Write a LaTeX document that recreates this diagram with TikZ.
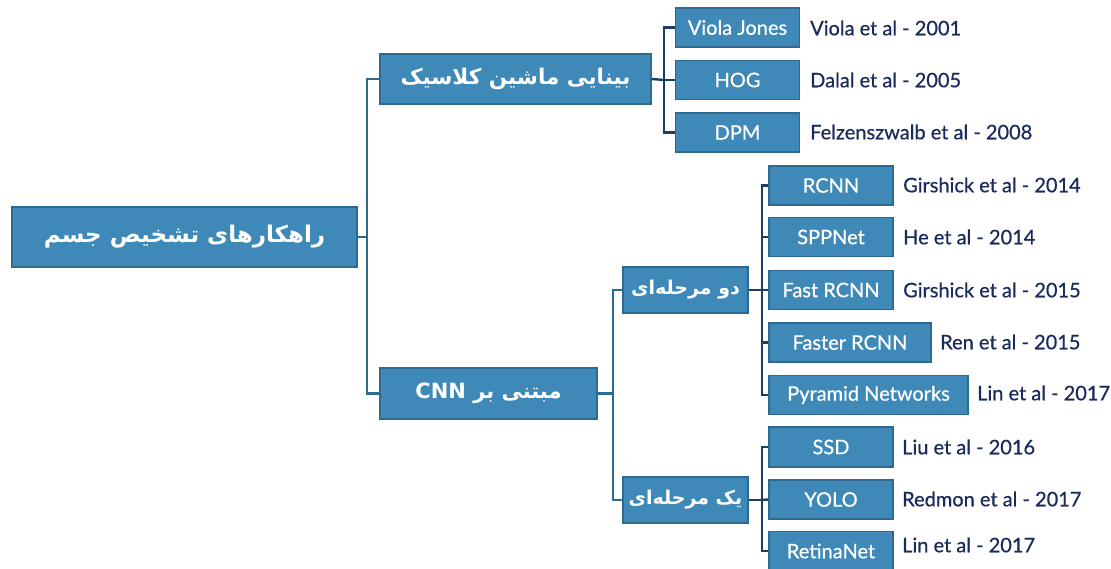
\documentclass[tikz,border=0pt]{standalone}
\usepackage{fontspec}
\setmainfont{Lato}
\newfontfamily\latofont{Lato}[FakeBold=0.6]
\newfontfamily\fafont[Script=Arabic]{DejaVu Sans}
\TeXXeTstate=1
\definecolor{boxfill}{HTML}{3F89B9}
\definecolor{boxline}{HTML}{2D6990}
\definecolor{trunk}{HTML}{2C6B90}
\definecolor{twig}{HTML}{1D3D63}
\definecolor{cite}{HTML}{1A2A5C}
\newcommand{\fa}[1]{{\fafont\bfseries\beginR #1\endR}}
\tikzset{
  box/.style={draw=boxline, line width=1.6pt, fill=boxfill, text=white,
    inner sep=0pt, anchor=center, font=\latofont\fontsize{20}{24}\selectfont},
  leaf/.style={box, minimum width=124pt, minimum height=39pt},
  mid/.style={box, minimum width=125pt, minimum height=46pt,
    font=\fontsize{19}{24}\selectfont},
  ref/.style={anchor=west, text=cite, inner sep=0pt,
    font=\latofont\fontsize{20}{24}\selectfont},
  branch/.style={draw=trunk, line width=2.4pt},
  fork/.style={draw=twig, line width=2.4pt},
}
\begin{document}
\begin{tikzpicture}[x=1pt,y=-1pt]
\useasboundingbox (0,0) rectangle (1111,569);

% top level
\node[box, minimum width=345pt, minimum height=60pt,
  font=\fontsize{23}{28}\selectfont] (root) at (184.5,237) {\fa{راهکارهای تشخیص جسم}};
\node[box, minimum width=271pt, minimum height=50pt,
  font=\fontsize{21.5}{26}\selectfont] (classic) at (515.5,79) {\fa{بینایی ماشین کلاسیک}};
\node[box, minimum width=217pt, minimum height=51pt,
  font=\fontsize{21}{26}\selectfont] (cnn) at (488.5,393.5) {\fa{مبتنی بر \beginL CNN\endL}};

% classic methods
\node[leaf] (viola) at (737.5,27.5) {Viola Jones};
\node[leaf] (hog) at (737.5,80) {HOG};
\node[leaf] (dpm) at (737.5,132.5) {DPM};
\node[ref] (violaref) at (810,28) {Viola et al - 2001};
\node[ref] (hogref) at (810,80) {Dalal et al - 2005};
\node[ref] (dpmref) at (810,132) {Felzenszwalb et al - 2008};

% CNN families
\node[mid] (two) at (685.5,290) {\fa{دو مرحله^^^^200cای}};
\node[mid] (one) at (685.5,500) {\fa{یک مرحله^^^^200cای}};

% two-stage detectors
\node[leaf] (rcnn) at (831,185.5) {RCNN};
\node[leaf] (spp) at (831,237) {SPPNet};
\node[leaf] (fast) at (831,290) {Fast RCNN};
\node[leaf, minimum width=162pt] (faster) at (850,342.5) {Faster RCNN};
\node[leaf, minimum width=199pt] (pyr) at (868.5,395) {Pyramid Networks};
\node[ref] (rcnnref) at (903,185) {Girshick et al - 2014};
\node[ref] (sppref) at (903,237) {He et al - 2014};
\node[ref] (fastref) at (903,290) {Girshick et al - 2015};
\node[ref] (fasterref) at (940,342) {Ren et al - 2015};
\node[ref] (pyrref) at (977,393) {Lin et al - 2017};

% one-stage detectors
\node[leaf, minimum height=40pt] (ssd) at (831,447) {SSD};
\node[leaf] (yolo) at (831,499.5) {YOLO};
\node[leaf] (retina) at (831,551) {RetinaNet};
\node[ref] (ssdref) at (902,447) {Liu et al - 2016};
\node[ref] (yoloref) at (902,499) {Redmon et al - 2017};
\node[ref] (retinaref) at (902,545) {Lin et al - 2017};

% junction points of the tree
\coordinate (j1) at (367,237);
\coordinate (j2) at (664,80);
\coordinate (j3) at (613,393.5);
\coordinate (j4) at (762,290);
\coordinate (j5) at (762,500);

% connectors
\draw[branch] (root.east) -- (j1);
\draw[branch] (classic.west) -| (j1) |- (cnn.west);

\draw[fork] (classic.east) -- (j2);
\draw[fork] (viola.west) -| (j2) |- (dpm.west);
\draw[fork] (hog.west) -- (j2);

\draw[branch] (cnn.east) -- (j3);
\draw[branch] (two.west) -| (j3) |- (one.west);

\draw[fork] (two.east) -- (j4);
\draw[fork] (rcnn.west) -| (j4) |- (pyr.west);
\draw[fork] (spp.west) -| (j4);
\draw[fork] (fast.west) -- (j4);
\draw[fork] (faster.west) -| (j4);

\draw[fork] (one.east) -- (j5);
\draw[fork] (ssd.west) -| (j5) |- (retina.west);
\draw[fork] (yolo.west) -- (j5);
\end{tikzpicture}
\end{document}
